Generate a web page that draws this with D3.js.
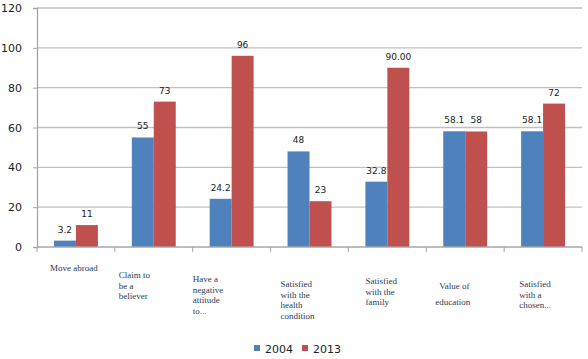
<!DOCTYPE html>
<html>
<head>
<meta charset="utf-8">
<script src="https://cdn.jsdelivr.net/npm/d3@7"></script>
<style>
  body { margin: 0; background: #fff; }
</style>
</head>
<body>
<div id="viz"></div>
<script>
const categories = [
  ["Move abroad"],
  ["Claim to", "be a", "believer"],
  ["Have a", "negative", "attitude", "to..."],
  ["Satisfied", "with the", "health", "condition"],
  ["Satisfied", "with the", "family"],
  ["Value of", "education"],
  ["Satisfied", "with a", "chosen..."]
]
const series = ["2004", "2013"]
const values2004 = [3.2, 55, 24.2, 48, 32.8, 58.1, 58.1]
const values2013 = [11, 73, 96, 23, 90, 58, 72]
const labels2004 = ["3.2", "55", "24.2", "48", "32.8", "58.1", "58.1"]
const labels2013 = ["11", "73", "96", "23", "90.00", "58", "72"]
const yTicks = [0, 20, 40, 60, 80, 100, 120]

// label boxes sit a bit differently under each category
const labelDx = [13, 4, 0, 10, 17, 13, 15]
const labelDy = [268, 275, 279, 284, 281, 286, 284]

const width = 588
const height = 359
const margin = { top: 8, right: 6, bottom: 112, left: 37 }
const colors = ["#4f81bd", "#c0504d"]

const svg = d3.select("#viz").append("svg")
  .attr("width", width)
  .attr("height", height)

const x = d3.scaleBand()
  .domain(d3.range(categories.length))
  .range([margin.left, width - margin.right])
  .paddingInner(0.436)
  .paddingOuter(0.218)

const x1 = d3.scaleBand()
  .domain(series)
  .range([0, x.bandwidth()])

const y = d3.scaleLinear()
  .domain([0, 120])
  .range([height - margin.bottom, margin.top])

const step = x.step()
const bandStart = i => margin.left + i * step

// grid
svg.append("g")
  .selectAll("line")
  .data(yTicks.slice(1))
  .enter()
  .append("line")
  .attr("x1", margin.left)
  .attr("x2", width - margin.right)
  .attr("y1", d => y(d))
  .attr("y2", d => y(d))
  .attr("stroke", "#c0c0c0")
  .attr("stroke-width", 1.3)

// y axis
const yAxis = svg.append("g")
  .attr("transform", `translate(${margin.left},0)`)
  .call(d3.axisLeft(y).tickValues(yTicks).tickSize(4).tickPadding(11))
yAxis.select(".domain").attr("stroke", "#a6a6a6").attr("stroke-width", 1.3)
yAxis.selectAll(".tick line").attr("stroke", "#a6a6a6")
yAxis.selectAll("text")
  .attr("font-family", "DejaVu Sans")
  .attr("font-size", 11)
  .attr("fill", "#222")

// bars
const data = [values2004, values2013]
const texts = [labels2004, labels2013]

series.forEach((s, k) => {
  svg.append("g")
    .selectAll("rect")
    .data(data[k])
    .enter()
    .append("rect")
    .attr("x", (d, i) => x(i) + x1(s))
    .attr("width", x1.bandwidth())
    .attr("y", d => y(d))
    .attr("height", d => y(0) - y(d))
    .attr("fill", colors[k])

  svg.append("g")
    .selectAll("text")
    .data(data[k])
    .enter()
    .append("text")
    .attr("x", (d, i) => x(i) + x1(s) + x1.bandwidth() / 2)
    .attr("y", d => y(d) - 8)
    .attr("text-anchor", "middle")
    .attr("font-family", "DejaVu Sans")
    .attr("font-size", 9)
    .attr("fill", "#222")
    .text((d, i) => texts[k][i])
})

// x axis
svg.append("line")
  .attr("x1", margin.left)
  .attr("x2", width - margin.right)
  .attr("y1", y(0))
  .attr("y2", y(0))
  .attr("stroke", "#a6a6a6")
  .attr("stroke-width", 1.3)

svg.append("g")
  .selectAll("line")
  .data(d3.range(categories.length + 1))
  .enter()
  .append("line")
  .attr("x1", d => bandStart(d))
  .attr("x2", d => bandStart(d))
  .attr("y1", y(0))
  .attr("y2", y(0) + 5)
  .attr("stroke", "#a6a6a6")

// category labels
const catText = svg.append("g")
  .selectAll("text")
  .data(categories)
  .enter()
  .append("text")
  .attr("font-family", "Liberation Serif")
  .attr("font-size", 9)
  .attr("fill", "#2d3a55")
  .attr("transform", (d, i) => `translate(${bandStart(i) + labelDx[i]},${labelDy[i] + 3})`)

catText.selectAll("tspan")
  .data((d, i) => d.map(line => ({ line, i })))
  .enter()
  .append("tspan")
  .attr("x", (d, j) => d.i === 5 && j === 1 ? -4 : 0)
  .attr("dy", (d, j) => j === 0 ? 0 : (d.i === 5 ? 16 : 10.5))
  .text(d => d.line)

// legend
const legend = svg.append("g")
  .attr("transform", "translate(254,343)")

series.forEach((s, k) => {
  const g = legend.append("g").attr("transform", `translate(${k * 48},0)`)
  g.append("rect")
    .attr("width", 6)
    .attr("height", 6)
    .attr("y", 2)
    .attr("fill", colors[k])
  g.append("text")
    .attr("x", 11)
    .attr("y", 9.5)
    .attr("font-family", "DejaVu Sans")
    .attr("font-size", 11)
    .attr("fill", "#222")
    .text(s)
})
</script>
</body>
</html>
